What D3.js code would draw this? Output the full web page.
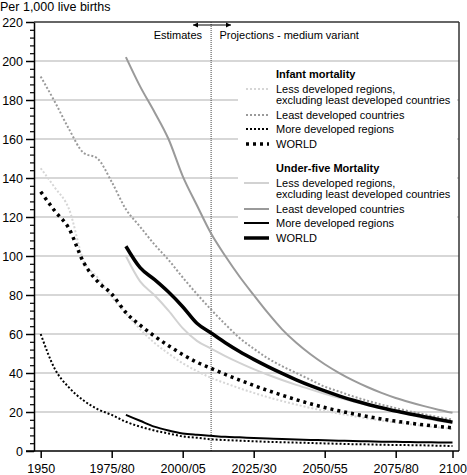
<!DOCTYPE html>
<html>
<head>
<meta charset="utf-8">
<script src="https://cdn.jsdelivr.net/npm/d3@7"></script>
<style>
  html, body { margin: 0; padding: 0; background: #fff; }
  svg { display: block; font-family: "Liberation Sans", Arial, sans-serif; }
</style>
</head>
<body>
<svg id="chart" width="467" height="475"></svg>
<script>
// ---- DATA (5-year periods, start year of each period) ----
const periods = d3.range(1950, 2100, 5); // 1950..2095 (30 periods)
const xTickValues = [1950, 1975, 2000, 2025, 2050, 2075, 2095];
const xTickLabels = ["1950", "1975/80", "2000/05", "2025/30", "2050/55", "2075/80", "2100"];
const yMajorTicks = [0, 20, 40, 60, 80, 100, 120, 140, 160, 180, 200, 220];

// Infant mortality (from 1950)
const infantLessDevExclLDC = [145, 135, 124, 98, 89, 79, 70.5, 62.5, 55.5, 50, 45, 41, 37.5, 34.8, 32.2, 29.8, 27.6, 25.6, 23.8, 22.1, 20.6, 19.2, 17.9, 16.7, 15.6, 14.6, 13.7, 12.9, 12.1, 11.4];
const infantLDC = [192, 179, 165, 153, 150, 138, 124, 115, 106, 98, 89, 80.5, 72.5, 65, 58, 52.5, 47.5, 43.5, 40, 36.5, 33, 30.5, 28, 25.8, 23.8, 22, 20.3, 18.8, 17.4, 16.1];
const infantMoreDev = [60, 42, 32.5, 26, 21.5, 18.5, 15, 12.5, 10.5, 9, 7.5, 6.8, 6, 5.6, 5.3, 5, 4.7, 4.5, 4.3, 4.1, 3.9, 3.7, 3.5, 3.4, 3.2, 3.1, 3, 2.9, 2.7, 2.6];
const infantWorld = [133, 123, 114, 97, 87, 80.5, 71, 64.5, 59, 54, 49.5, 45.5, 42.4, 39.3, 36.4, 33.6, 31, 28.6, 26.3, 24.2, 22.3, 20.6, 19.1, 17.7, 16.4, 15.3, 14.3, 13.4, 12.6, 11.9];

// Under-five mortality (from 1980)
const u5Start = 1980;
const u5LessDevExclLDC = [100, 87, 80, 72, 63, 56.5, 52.5, 48.7, 45.2, 42, 39.1, 36.4, 33.9, 31.6, 29.4, 27.3, 25.4, 23.6, 21.9, 20.3, 18.8, 16.8, 15.5, 14.3];
const u5LDC = [202, 187, 174, 160, 141, 126, 111.5, 100, 89.5, 80, 70.8, 62.4, 55.5, 49.6, 44.5, 40.1, 36.2, 32.8, 29.8, 27.2, 25, 23, 21.2, 19.6];
const u5MoreDev = [18.5, 15.5, 12.5, 10.5, 9, 8.3, 7.8, 7.3, 7, 6.7, 6.4, 6.1, 5.9, 5.7, 5.5, 5.3, 5.1, 5, 4.8, 4.7, 4.6, 4.5, 4.4, 4.3];
const u5World = [105, 94, 88, 81.5, 74, 65.5, 60.5, 55.5, 51, 47, 43.3, 39.8, 36.5, 33.5, 30.8, 28.3, 26, 24, 22.2, 20.5, 19, 17.6, 16.2, 14.8];

// ---- STYLES ----
const LIGHT = "#d2d2d2", MID = "#9a9a9a", BLACK = "#000";
const series = [
  { name: "infLDR", start: 1950, values: infantLessDevExclLDC, color: "#d6d6d6", width: 2, dash: "2,2" },
  { name: "infLDC", start: 1950, values: infantLDC, color: MID, width: 2, dash: "2,2" },
  { name: "u5LDR", start: u5Start, values: u5LessDevExclLDC, color: LIGHT, width: 2, dash: null },
  { name: "u5LDC", start: u5Start, values: u5LDC, color: MID, width: 2, dash: null },
  { name: "infMDR", start: 1950, values: infantMoreDev, color: BLACK, width: 2, dash: "2,2" },
  { name: "u5MDR", start: u5Start, values: u5MoreDev, color: BLACK, width: 2, dash: null },
  { name: "u5World", start: u5Start, values: u5World, color: BLACK, width: 3.5, dash: null },
  { name: "infWorld", start: 1950, values: infantWorld, color: BLACK, width: 3.5, dash: "3,4" }
];

const svg = d3.select("#chart");
const pLeft = 34, pRight = 459, pTop = 22, pBottom = 451;

const x = d3.scaleLinear().domain([1950, 2095]).range([40.7, 452.5]);
const y = d3.scaleLinear().domain([0, 220]).range([pBottom, pTop]);

// Gridlines
svg.append("g").selectAll("line")
  .data(yMajorTicks.filter(v => v > 0 && v < 220))
  .join("line")
  .attr("x1", pLeft).attr("x2", pRight)
  .attr("y1", d => y(d)).attr("y2", d => y(d))
  .attr("stroke", "#cacaca").attr("stroke-width", 1.5);

// Legend background (covers gridlines)
svg.append("rect").attr("x", 238).attr("y", 63).attr("width", 219).attr("height", 191).attr("fill", "#fff");

// Vertical estimates/projections divider at 2010
svg.append("line")
  .attr("x1", x(2010)).attr("x2", x(2010))
  .attr("y1", pTop).attr("y2", pBottom)
  .attr("stroke", "#444").attr("stroke-width", 1).attr("stroke-dasharray", "1,1");

// Series lines
const line = d3.line().x(d => x(d[0])).y(d => y(d[1])).curve(d3.curveMonotoneX);
svg.append("g").selectAll("path")
  .data(series)
  .join("path")
  .attr("d", s => line(s.values.map((v, i) => [s.start + 5 * i, v])))
  .attr("fill", "none")
  .attr("stroke", s => s.color)
  .attr("stroke-width", s => s.width)
  .attr("stroke-dasharray", s => s.dash);

// Frame: top and right
svg.append("line").attr("x1", pLeft).attr("x2", pRight).attr("y1", pTop).attr("y2", pTop)
  .attr("stroke", "#333").attr("stroke-width", 1.5);
svg.append("line").attr("x1", pRight).attr("x2", pRight).attr("y1", pTop).attr("y2", pBottom)
  .attr("stroke", "#333").attr("stroke-width", 1.5);

// Y axis (major)
const yAxis = d3.axisLeft(y).tickValues(yMajorTicks).tickSize(8).tickSizeOuter(0).tickPadding(3);
const gy = svg.append("g").attr("transform", `translate(${pLeft},0)`).call(yAxis);
gy.select(".domain").attr("stroke", "#000").attr("stroke-width", 1.5);
gy.selectAll(".tick line").attr("stroke", "#000").attr("stroke-width", 1.5);
gy.selectAll(".tick text").attr("font-size", 12.5).attr("fill", "#000")
  .attr("font-family", "'Liberation Sans', Arial, sans-serif");

// Y axis (minor)
const minor = d3.range(0, 221, 4).filter(v => v % 20 !== 0);
const yMinor = d3.axisLeft(y).tickValues(minor).tickSize(4).tickSizeOuter(0).tickFormat("");
const gym = svg.append("g").attr("transform", `translate(${pLeft},0)`).call(yMinor);
gym.select(".domain").remove();
gym.selectAll(".tick line").attr("stroke", "#000").attr("stroke-width", 1.2);

// X axis
const xAxis = d3.axisBottom(x).tickValues(xTickValues).tickSize(7).tickSizeOuter(0).tickPadding(6)
  .tickFormat((d, i) => xTickLabels[i]);
const gx = svg.append("g").attr("transform", `translate(0,${pBottom})`).call(xAxis);
gx.select(".domain").remove();
gx.selectAll(".tick line").attr("stroke", "#000").attr("stroke-width", 1.5);
gx.selectAll(".tick text").attr("font-size", 12.5).attr("fill", "#000")
  .attr("font-family", "'Liberation Sans', Arial, sans-serif");
svg.append("line").attr("x1", 26).attr("x2", pRight).attr("y1", pBottom).attr("y2", pBottom)
  .attr("stroke", "#000").attr("stroke-width", 1.5);

// Y unit label
svg.append("text").attr("x", 0).attr("y", 11).attr("font-size", 12.5).text("Per 1,000 live births");

// Estimates / projections annotation
const arrowY = 25;
svg.append("line").attr("x1", 193).attr("x2", 231).attr("y1", arrowY).attr("y2", arrowY)
  .attr("stroke", "#000").attr("stroke-width", 1);
svg.append("path").attr("d", `M193,${arrowY} l5,-2.5 v5 z`).attr("fill", "#000");
svg.append("path").attr("d", `M231,${arrowY} l-5,-2.5 v5 z`).attr("fill", "#000");
svg.append("text").attr("x", 202).attr("y", 39).attr("font-size", 11).attr("text-anchor", "end").text("Estimates");
svg.append("text").attr("x", 219.5).attr("y", 39).attr("font-size", 11).text("Projections - medium variant");

// Legend
const legendGroups = [
  { title: "Infant mortality", base: 77.5, x1: 246, x2: 269,
    items: [series[0], series[1], series[4], series[7]] },
  { title: "Under-five Mortality", base: 171.5, x1: 244, x2: 269,
    items: [series[2], series[3], series[5], series[6]] }
];
const itemLabels = [["Less developed regions,", "excluding least developed countries"], ["Least developed countries"], ["More developed regions"], ["WORLD"]];
const rowOffsets = [15.5, 41.5, 55.5, 70.5];
legendGroups.forEach(g => {
  svg.append("text").attr("x", 276).attr("y", g.base).attr("font-size", 11).attr("font-weight", "bold").text(g.title);
  g.items.forEach((s, i) => {
    const by = g.base + rowOffsets[i];
    svg.append("line").attr("x1", g.x1).attr("x2", g.x2).attr("y1", by - 4).attr("y2", by - 4)
      .attr("stroke", s.color).attr("stroke-width", s.width).attr("stroke-dasharray", s.dash);
    itemLabels[i].forEach((t, j) => {
      svg.append("text").attr("x", 276).attr("y", by + j * 11.3).attr("font-size", 11).text(t);
    });
  });
});
</script>
</body>
</html>
